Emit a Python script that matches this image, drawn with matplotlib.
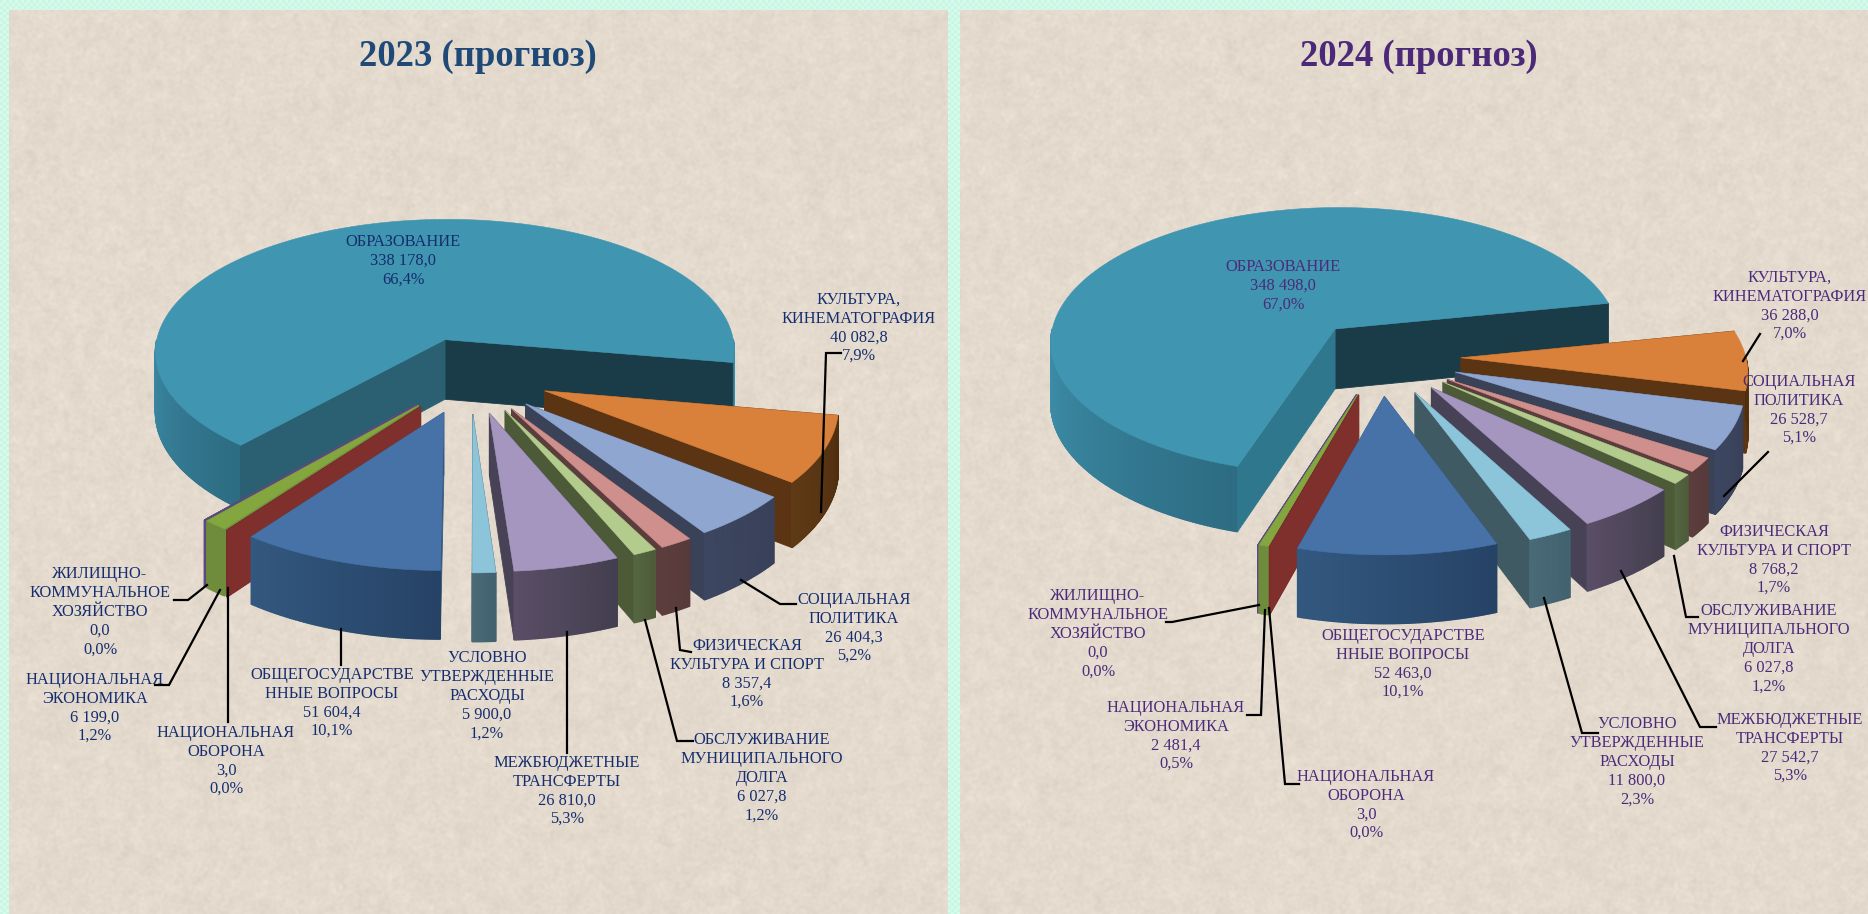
import numpy as np
import matplotlib
matplotlib.use("Agg")
import matplotlib.pyplot as plt
from matplotlib.patches import Polygon
from matplotlib.colors import to_rgb

# ---------- data ----------
names = ["ОБРАЗОВАНИЕ", "КУЛЬТУРА,\nКИНЕМАТОГРАФИЯ", "СОЦИАЛЬНАЯ\nПОЛИТИКА",
         "ФИЗИЧЕСКАЯ\nКУЛЬТУРА И СПОРТ", "ОБСЛУЖИВАНИЕ\nМУНИЦИПАЛЬНОГО\nДОЛГА",
         "МЕЖБЮДЖЕТНЫЕ\nТРАНСФЕРТЫ", "УСЛОВНО\nУТВЕРЖДЕННЫЕ\nРАСХОДЫ",
         "ОБЩЕГОСУДАРСТВЕ\nННЫЕ ВОПРОСЫ", "НАЦИОНАЛЬНАЯ\nОБОРОНА",
         "НАЦИОНАЛЬНАЯ\nЭКОНОМИКА", "ЖИЛИЩНО-\nКОММУНАЛЬНОЕ\nХОЗЯЙСТВО"]
values_2023 = [338178.0, 40082.8, 26404.3, 8357.4, 6027.8, 26810.0, 5900.0, 51604.4, 3.0, 6199.0, 0.0]
values_2024 = [348498.0, 36288.0, 26528.7, 8768.2, 6027.8, 27542.7, 11800.0, 52463.0, 3.0, 2481.4, 0.0]
titles = ["2023 (прогноз)", "2024 (прогноз)"]

# ---------- styling ----------
top_colors = ["#4095b0", "#d9813a", "#8fa7d0", "#cf8f8d", "#b3cc8e", "#a596bf",
              "#8cc4da", "#4672a8", "#7a2e2b", "#83a63f", "#5b4a80"]
radial_colors = ["#1a3c49", "#5a3413", "#3a4257", "#5c3d3d", "#4d5a38", "#484257",
                 "#3f5a62", "#33587f", "#7f302c", "#6f8c3d", "#5b4a80"]
wall_a = ["#3f92ae", "#5f3a16", "#3d4660", "#5c3d3d", "#556640", "#5a4e66",
          "#4a6a78", "#33587f", "#7a2e2b", "#6f8c3d", "#5b4a80"]
wall_b = ["#2d6c82", "#4f2e10", "#39415a", "#573a3a", "#4f5c3a", "#433f4f",
          "#436270", "#264366", "#7a2e2b", "#6f8c3d", "#5b4a80"]

RY, PERSP, EXPL, DEPTH = 137.0, 0.089, 0.28, 61.0
W, H = 1868, 914

panels = [
    dict(x0=9, x1=948, cx=470, cy=375, rx=289.0, cx_big=472, rx_big=295.0, start=229.0, title_x=478,
         color="#152d6e", title_color="#1f4a78", big_cut="#2a6072", values=values_2023,
         labels=[(403, 261), (859, 328), (854, 628), (747, 674), (762, 778), (567, 791), (487, 696),
                 (332, 703), (226, 761), (95, 708), (100, 612)],
         leaders=[None,
                  [(841, 353), (826, 353), (821, 512)],
                  [(741, 580), (780, 604), (796, 604)],
                  [(676, 608), (680, 650), (691, 652)],
                  [(645, 620), (677, 741), (693, 741)],
                  [(567, 632), (567, 753)],
                  None,
                  [(341, 629), (341, 665)],
                  [(228, 588), (228, 722)],
                  [(220, 590), (169, 685), (155, 685)],
                  [(207, 585), (188, 600), (174, 600)]]),
    dict(x0=960, x1=1868, cx=1381, cy=357, rx=285.0, cx_big=1388, rx_big=288.0, start=252.5, title_x=1419,
         color="#4b2a7b", title_color="#4b2878", big_cut="#2f778c", values=values_2024,
         labels=[(1283, 286), (1790, 306), (1799, 410), (1774, 560), (1769, 649), (1790, 748), (1637, 762),
                 (1403, 664), (1366, 805), (1176, 736), (1098, 634)],
         leaders=[None,
                  [(1743, 361), (1760, 334)],
                  [(1724, 496), (1768, 452)],
                  None,
                  [(1674, 556), (1686, 617), (1698, 617)],
                  [(1621, 571), (1700, 727), (1716, 727)],
                  [(1544, 598), (1582, 733), (1598, 733)],
                  None,
                  [(1269, 608), (1285, 784), (1299, 784)],
                  [(1265, 610), (1261, 715), (1247, 715)],
                  [(1259, 605), (1172, 622), (1166, 622)]]),
]


def project(c_x, r_x, c_y, X, Y, depth=0.0):
    s = 1.0 / (1.0 + PERSP * Y)
    return c_x + r_x * X * s, c_y - RY * Y * s + depth * DEPTH * s


def fmt(v):
    whole, frac = f"{v:.1f}".split(".")
    if len(whole) > 3:
        whole = whole[:-3] + " " + whole[-3:]
    return f"{whole},{frac}"


def draw_slice(ax, p, i, a1, a0, z):
    """slice from a0 (clockwise end) to a1 (counter-clockwise end), degrees"""
    big = (a1 - a0) > 180
    c_x, r_x = (p["cx_big"], p["rx_big"]) if big else (p["cx"], p["rx"])
    pr = lambda X, Y, d=0.0: project(c_x, r_x, p["cy"], X, Y, d)
    mid = np.radians((a0 + a1) / 2)
    ox, oy = EXPL * np.cos(mid), EXPL * np.sin(mid)
    n = max(2, int(abs(a1 - a0) * 2.5))
    th = np.radians(np.linspace(a0, a1, n))
    rimX, rimY = ox + np.cos(th), oy + np.sin(th)

    def radial(t, color, zz):
        ex, ey = ox + np.cos(t), oy + np.sin(t)
        quad = [pr(ox, oy), pr(ex, ey), pr(ex, ey, 1), pr(ox, oy, 1)]
        ax.add_patch(Polygon(quad, closed=True, fc=color, ec=color, lw=0.6, zorder=zz))

    ca0, ca1 = np.radians(a0), np.radians(a1)
    zr, zo = (z + 0.2, z + 0.1) if big else (z + 0.1, z + 0.2)
    if big:
        radial(ca0, radial_colors[i], zr)
        radial(ca1, p["big_cut"], zr + 0.01)
    else:
        first, second = (ca0, ca1) if np.sin(ca0) > np.sin(ca1) else (ca1, ca0)
        radial(first, radial_colors[i], zr)
        radial(second, radial_colors[i], zr + 0.01)
    # outer wall, shaded along the arc
    c_a, c_b = np.array(to_rgb(wall_a[i])), np.array(to_rgb(wall_b[i]))
    vis = [k for k in range(n - 1) if np.sin((th[k] + th[k + 1]) / 2) < 0]
    for m, k in enumerate(vis):
        f = m / max(1, len(vis) - 1)
        if not big:
            f = 1 - f
        col = c_a * (1 - f) + c_b * f if big else c_a * f + c_b * (1 - f)
        q = [pr(rimX[k], rimY[k]), pr(rimX[k + 1], rimY[k + 1]),
             pr(rimX[k + 1], rimY[k + 1], 1), pr(rimX[k], rimY[k], 1)]
        ax.add_patch(Polygon(q, closed=True, fc=col, ec=col, lw=1.0, zorder=zo))
    # top
    pts = [pr(ox, oy)] + [pr(a, b) for a, b in zip(rimX, rimY)]
    ax.add_patch(Polygon(pts, closed=True, fc=top_colors[i], ec=top_colors[i], lw=0.4, zorder=z + 0.5))


def hash_noise(h, w, phase):
    yy, xx = np.mgrid[0:h, 0:w]
    v = np.sin(xx * 12.9898 + yy * 78.233 + phase) * 43758.5453
    return v - np.floor(v)


def blur(v, size, passes=2):
    for _ in range(passes):
        for axis in (0, 1):
            v = sum(np.roll(v, k, axis=axis) for k in range(size)) / size
    v = v - v.mean()
    return v / (v.std() + 1e-9)


fig = plt.figure(figsize=(W / 100, H / 100), dpi=100)
ax = fig.add_axes([0, 0, 1, 1])
ax.set_xlim(0, W)
ax.set_ylim(H, 0)
ax.axis("off")

# page background: mint with a fine dotted weave
yy, xx = np.mgrid[0:H, 0:W]
weave = ((xx // 3 + yy // 3) % 2).astype(float)
bg = np.dstack([(200 + 14 * weave), (246 + 4 * weave), (226 + 10 * weave)]) / 255.0
ax.imshow(bg, extent=(0, W, H, 0), zorder=0, interpolation="nearest", aspect="auto")

for idx, p in enumerate(panels):
    w = p["x1"] - p["x0"]
    h = H - 10
    fine = blur(hash_noise(h, w, p["x0"] * 0.37), 3)
    coarse = blur(hash_noise(h, w, p["x0"] * 0.71 + 2.0), 9)
    tex = 1.8 * fine + 1.4 * coarse
    base = np.array([228, 219, 206], float)
    img = np.clip(base[None, None, :] + tex[..., None], 0, 255) / 255.0
    ax.imshow(img, extent=(p["x0"], p["x1"], H, 10), zorder=1, interpolation="bilinear", aspect="auto")

    vals = np.array(p["values"], float)
    total = vals.sum()
    spans = vals / total * 360.0
    edges = p["start"] - np.concatenate([[0], np.cumsum(spans)])
    mids = (edges[:-1] + edges[1:]) / 2
    order = np.argsort(-np.sin(np.radians(mids)), kind="stable")
    for z, i in enumerate(order):
        span = max(spans[i], 1e-3)
        draw_slice(ax, p, int(i), edges[i], edges[i] - span, 2 + z)

    for i, name in enumerate(names):
        share = f"{vals[i] / total * 100:.1f}".replace(".", ",")
        ax.text(p["labels"][i][0], p["labels"][i][1], f"{name}\n{fmt(vals[i])}\n{share}%",
                ha="center", va="center", family="Liberation Serif", fontsize=11.8,
                color=p["color"], linespacing=1.23, zorder=40)
        if p["leaders"][i]:
            lx, ly = zip(*p["leaders"][i])
            ax.plot(lx, ly, color="black", lw=1.6, zorder=30, solid_joinstyle="miter")

    ax.text(p["title_x"], 56, titles[idx], ha="center", va="center",
            family="Liberation Serif", weight="bold", fontsize=26.4, color=p["title_color"], zorder=40)

ax.set_xlim(0, W)
ax.set_ylim(H, 0)
fig.savefig("out.png", dpi=100)
